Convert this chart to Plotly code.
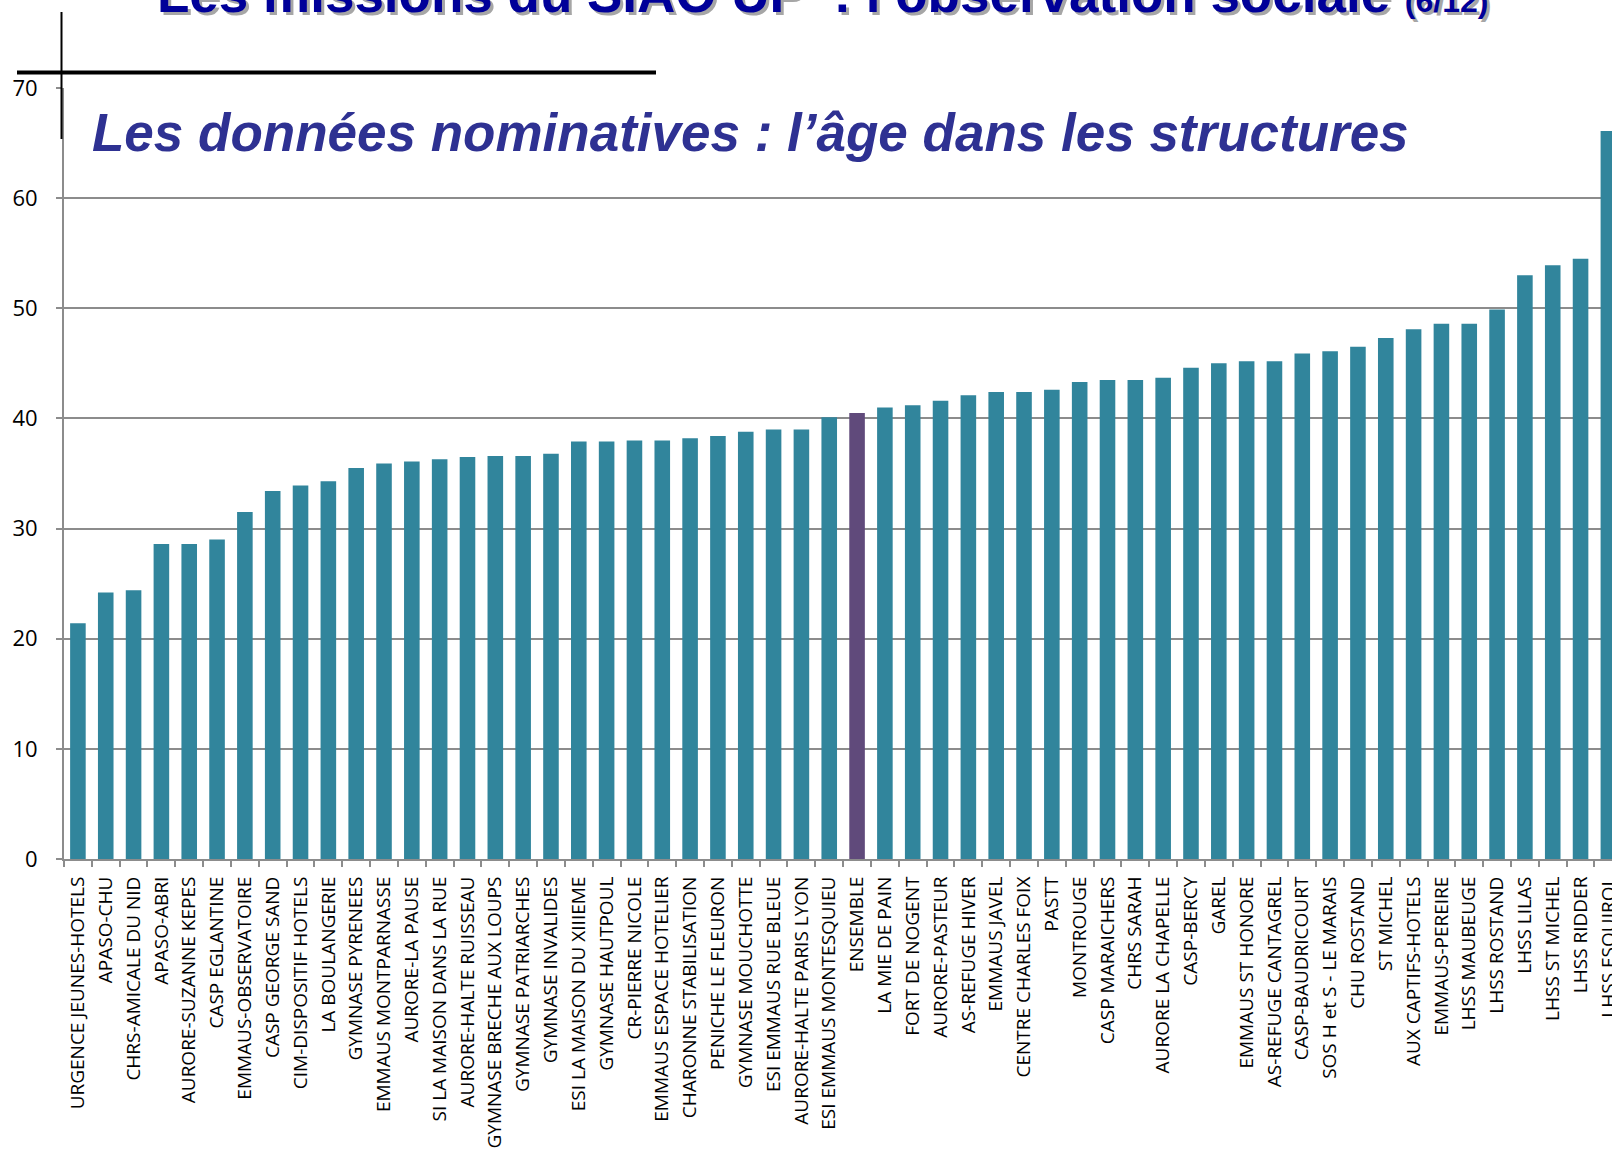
import plotly.graph_objects as go

categories = [
    "URGENCE JEUNES-HOTELS", "APASO-CHU", "CHRS-AMICALE DU NID", "APASO-ABRI",
    "AURORE-SUZANNE KEPES", "CASP EGLANTINE", "EMMAUS-OBSERVATOIRE", "CASP GEORGE SAND",
    "CIM-DISPOSITIF HOTELS", "LA BOULANGERIE", "GYMNASE PYRENEES", "EMMAUS MONTPARNASSE",
    "AURORE-LA PAUSE", "SI LA MAISON DANS LA RUE", "AURORE-HALTE RUISSEAU",
    "GYMNASE BRECHE AUX LOUPS", "GYMNASE PATRIARCHES", "GYMNASE INVALIDES",
    "ESI LA MAISON DU XIIIEME", "GYMNASE HAUTPOUL", "CR-PIERRE NICOLE",
    "EMMAUS ESPACE HOTELIER", "CHARONNE STABILISATION", "PENICHE LE FLEURON",
    "GYMNASE MOUCHOTTE", "ESI EMMAUS RUE BLEUE", "AURORE-HALTE PARIS LYON",
    "ESI EMMAUS MONTESQUIEU", "ENSEMBLE", "LA MIE DE PAIN", "FORT DE NOGENT",
    "AURORE-PASTEUR", "AS-REFUGE HIVER", "EMMAUS JAVEL", "CENTRE CHARLES FOIX",
    "PASTT", "MONTROUGE", "CASP MARAICHERS", "CHRS SARAH", "AURORE LA CHAPELLE",
    "CASP-BERCY", "GAREL", "EMMAUS ST HONORE", "AS-REFUGE CANTAGREL",
    "CASP-BAUDRICOURT", "SOS H et S - LE MARAIS", "CHU ROSTAND", "ST MICHEL",
    "AUX CAPTIFS-HOTELS", "EMMAUS-PEREIRE", "LHSS MAUBEUGE", "LHSS ROSTAND",
    "LHSS LILAS", "LHSS ST MICHEL", "LHSS RIDDER", "LHSS ESQUIROL",
]

ages = [
    21.4, 24.2, 24.4, 28.6, 28.6, 29.0, 31.5, 33.4, 33.9, 34.3, 35.5, 35.9,
    36.1, 36.3, 36.5, 36.6, 36.6, 36.8, 37.9, 37.9, 38.0, 38.0, 38.2, 38.4,
    38.8, 39.0, 39.0, 40.1, 40.5, 41.0, 41.2, 41.6, 42.1, 42.4, 42.4, 42.6,
    43.3, 43.5, 43.5, 43.7, 44.6, 45.0, 45.2, 45.2, 45.9, 46.1, 46.5, 47.3,
    48.1, 48.6, 48.6, 49.9, 53.0, 53.9, 54.5, 66.1,
]

highlight = "ENSEMBLE"
y_ticks = [0, 10, 20, 30, 40, 50, 60, 70]

TEAL = "#31859C"
PURPLE = "#604A7B"
GRID = "#8C8C8C"

# figure geometry: figure fills the page exactly (body margin removed below)
W, H = 1612, 1149
L, T, B = 64, 88, 290
PW = W - L
PH = H - T - B


def px(fx):
    return (fx - L) / PW


def py(fy):
    return 1 - (fy - T) / PH


colors = [PURPLE if c == highlight else TEAL for c in categories]

fig = go.Figure(
    go.Bar(
        x=categories,
        y=ages,
        marker=dict(color=colors, line=dict(width=0)),
        width=0.56,
    )
)

fig.update_layout(
    width=W,
    height=H,
    margin=dict(l=L, r=0, t=T, b=B),
    paper_bgcolor="white",
    plot_bgcolor="white",
    showlegend=False,
    font=dict(family="Open Sans", color="black"),
)

fig.update_xaxes(
    type="category",
    range=[-0.5, 55.13],
    tickangle=-90,
    ticks="outside",
    tickson="boundaries",
    ticklen=6,
    tickwidth=2,
    tickcolor=GRID,
    showline=True,
    linecolor=GRID,
    linewidth=2,
    showgrid=False,
    tickfont=dict(family="Open Sans", size=19, color="black"),
    ticklabelstandoff=8,
    automargin=False,
)

fig.update_yaxes(
    range=[0, 70],
    tickvals=y_ticks,
    ticktext=[str(v) for v in y_ticks],
    ticks="outside",
    ticklen=6,
    tickwidth=2,
    tickcolor=GRID,
    showline=True,
    linecolor=GRID,
    linewidth=2,
    showgrid=True,
    gridcolor=GRID,
    gridwidth=2,
    zeroline=False,
    tickfont=dict(family="Open Sans", size=22, color="black"),
    ticklabelstandoff=14,
    automargin=False,
)

# Slide title (cut off at top) with shadow
title_html = ("<b>Les missions du SIAO UP  : l’observation sociale "
              "<span style='font-size:32px'>(6/12)</span></b>")


def add_title(dx, dy, color):
    fig.add_annotation(
        xref="paper", yref="paper",
        x=px(822 + dx), y=1.0, yshift=63 - dy,
        text=title_html, showarrow=False, xanchor="center", yanchor="bottom",
        font=dict(family="Liberation Sans", size=53, color=color),
    )


add_title(3, 3, "#A6A6A6")
add_title(0, 0, "#000099")

# Subtitle
fig.add_annotation(
    xref="paper", yref="paper",
    x=px(90), y=1.0, yshift=-76,
    text="<b><i>Les données nominatives : l’âge dans les structures</i></b>",
    showarrow=False, xanchor="left", yanchor="bottom",
    font=dict(family="Liberation Sans", size=53, color="#2E3192"),
)

# Decorative lines of the slide
fig.add_shape(type="line", xref="paper", yref="paper",
              x0=px(17), x1=px(656), y0=py(72.5), y1=py(72.5),
              line=dict(color="black", width=4))
fig.add_shape(type="line", xref="paper", yref="paper",
              x0=px(61.5), x1=px(61.5), y0=py(12), y1=py(139),
              line=dict(color="black", width=2))

fig.write_html(
    "out.html",
    config={"displayModeBar": False},
    post_script="document.body.style.margin='0px';document.body.style.overflow='hidden';",
)
